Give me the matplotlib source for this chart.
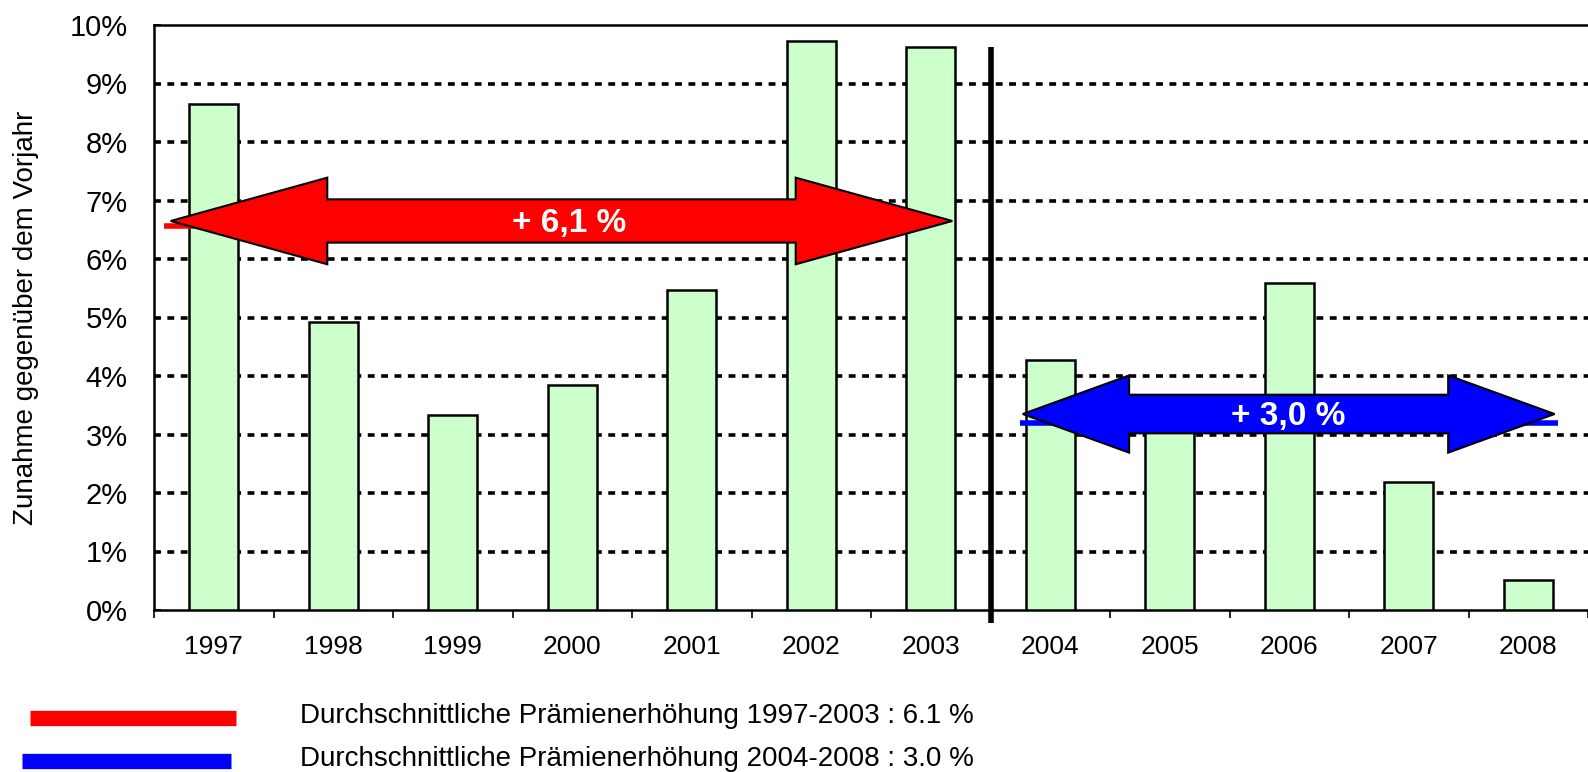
import matplotlib
matplotlib.use("Agg")
import matplotlib.pyplot as plt
from matplotlib.patches import Polygon
from matplotlib.lines import Line2D
from matplotlib.ticker import FuncFormatter, FixedLocator
import numpy as np

plt.rcParams['font.family'] = ['Liberation Sans', 'DejaVu Sans']

years = ['1997', '1998', '1999', '2000', '2001', '2002', '2003',
         '2004', '2005', '2006', '2007', '2008']
increase_pct = [8.65, 4.93, 3.34, 3.84, 5.47, 9.72, 9.62,
                4.27, 3.30, 5.59, 2.18, 0.52]

avg1_value = 6.57
avg2_value = 3.20
avg1_label = 'Durchschnittliche Prämienerhöhung 1997-2003 : 6.1 %'
avg2_label = 'Durchschnittliche Prämienerhöhung 2004-2008 : 3.0 %'
arrow1_text = '+ 6,1 %'
arrow2_text = '+ 3,0 %'
ylabel = 'Zunahme gegenüber dem Vorjahr'

# arrow geometry: (x_start, x_end, y_center, body_half, head_half, head_len)
arrow1 = (-0.36, 6.18, 6.65, 0.37, 0.74, 1.31)
arrow2 = (6.77, 11.22, 3.35, 0.33, 0.66, 0.89)

fig = plt.figure(figsize=(15.88, 7.72), dpi=100)
ax = fig.add_axes([154/1588, 1-610/772, (1588-154)/1588, 585/772])

x = np.arange(len(years))
ax.bar(x, increase_pct, width=0.41, color='#CCFFCC', edgecolor='black',
       linewidth=1.8, zorder=3)

ax.set_xlim(-0.5, -0.5 + (1588-154)/120.1)
ax.set_ylim(0, 10)

# gridlines
for v in range(1, 10):
    ax.axhline(v, color='black', linestyle=(0, (1.9, 1.8)), linewidth=2.6, zorder=1)

ax.spines['right'].set_visible(False)
for s in ['left', 'bottom', 'top']:
    ax.spines[s].set_linewidth(1.8)

ax.yaxis.set_major_locator(FixedLocator(np.arange(0, 11, 1)))
ax.yaxis.set_major_formatter(FuncFormatter(lambda v, p: f'{int(round(v))}%'))
ax.tick_params(axis='y', length=5, width=1.4, direction='in', labelsize=21, pad=19)

ax.set_xticks(x)
ax.set_xticklabels(years)
ax.set_xticks(np.arange(-0.5, len(years), 1), minor=True)
ax.tick_params(axis='x', which='major', length=0, labelsize=19, pad=18)
ax.tick_params(axis='x', which='minor', length=6, width=1.2, direction='out')

ax.set_ylabel(ylabel, fontsize=20)
ax.yaxis.set_label_coords(-0.08, 0.5)

# average lines (mostly hidden behind arrows)
ax.plot([-0.42, 5.9], [avg1_value, avg1_value], color='red', linewidth=4, zorder=4,
        solid_capstyle='butt')
ax.plot([6.75, 11.25], [avg2_value, avg2_value], color='blue', linewidth=4, zorder=4,
        solid_capstyle='butt')

# separator
ax.plot([6.5, 6.5], [-0.22, 9.62], color='black', linewidth=4, zorder=6, clip_on=False,
        solid_capstyle='butt')


def double_arrow(params):
    x0, x1, yc, bh, hh, hl = params
    pts = [(x0, yc), (x0 + hl, yc + hh), (x0 + hl, yc + bh), (x1 - hl, yc + bh),
           (x1 - hl, yc + hh), (x1, yc), (x1 - hl, yc - hh), (x1 - hl, yc - bh),
           (x0 + hl, yc - bh), (x0 + hl, yc - hh)]
    return pts


ax.add_patch(Polygon(double_arrow(arrow1), closed=True, facecolor='#FF0000',
                     edgecolor='black', linewidth=1.5, zorder=5))
ax.add_patch(Polygon(double_arrow(arrow2), closed=True, facecolor='#0000FF',
                     edgecolor='black', linewidth=1.5, zorder=5))
ax.text((arrow1[0] + arrow1[1]) / 2 + 0.06, arrow1[2] - 0.05, arrow1_text, color='white',
        fontsize=24, fontweight='bold', ha='center', va='center', zorder=7)
ax.text((arrow2[0] + arrow2[1]) / 2, arrow2[2] - 0.05, arrow2_text, color='white',
        fontsize=24, fontweight='bold', ha='center', va='center', zorder=7)

# legend
fig.add_artist(Line2D([30/1588, 236/1588], [1-718/772, 1-718/772], color='red',
                      linewidth=11, solid_capstyle='butt'))
fig.add_artist(Line2D([22/1588, 231/1588], [1-761/772, 1-761/772], color='blue',
                      linewidth=11, solid_capstyle='butt'))
fig.text(300/1588, 1-716/772, avg1_label, fontsize=20, va='center', ha='left')
fig.text(300/1588, 1-759/772, avg2_label, fontsize=20, va='center', ha='left')

fig.savefig('out.png', dpi=100)
